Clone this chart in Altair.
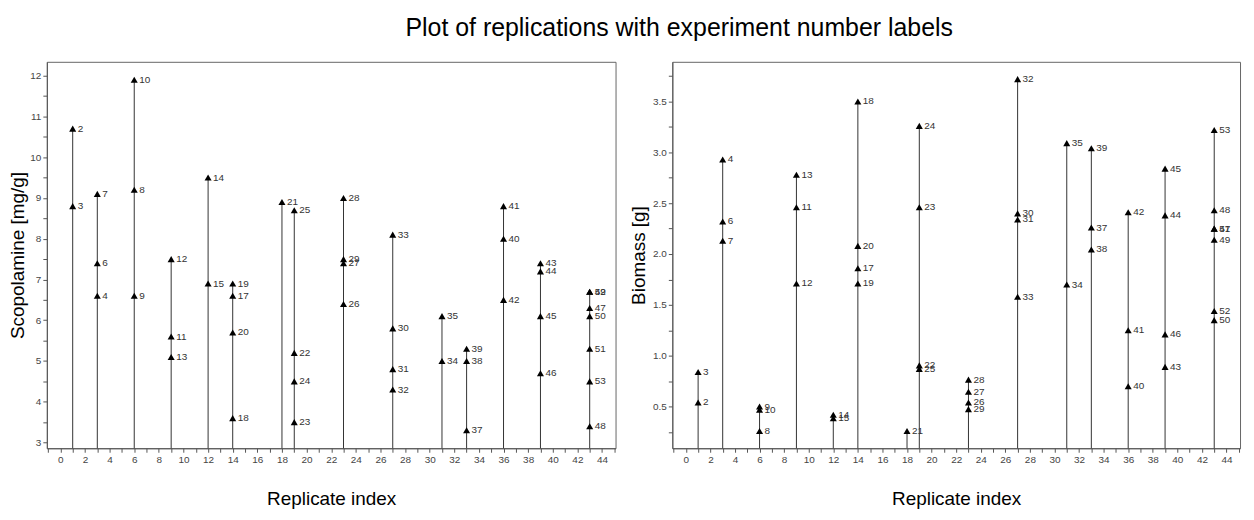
import altair as alt
import pandas as pd

# ---- Left panel: Scopolamine ----
scop_x = [1, 1, 3, 3, 3, 6, 6, 6, 9, 9, 9, 12, 12, 14, 14, 14, 14, 18, 19, 19, 19, 19,
          23, 23, 23, 23, 27, 27, 27, 27, 31, 31, 33, 33, 33, 36, 36, 36, 39, 39, 39, 39,
          43, 43, 43, 43, 43, 43, 43]
scop_labels = [2, 3, 7, 6, 4, 10, 8, 9, 12, 11, 13, 14, 15, 19, 17, 20, 18, 21, 25, 22, 24, 23,
               28, 29, 27, 26, 33, 30, 31, 32, 35, 34, 39, 38, 37, 41, 40, 42, 43, 44, 45, 46,
               52, 49, 47, 50, 51, 53, 48]
scop_values = [10.7, 8.8, 9.1, 7.4, 6.6, 11.9, 9.2, 6.6, 7.5, 5.6, 5.1, 9.5, 6.9,
               6.9, 6.6, 5.7, 3.6, 8.9, 8.7, 5.2, 4.5, 3.5, 9.0, 7.5, 7.4, 6.4,
               8.1, 5.8, 4.8, 4.3, 6.1, 5.0, 5.3, 5.0, 3.3, 8.8, 8.0, 6.5,
               7.4, 7.2, 6.1, 4.7, 6.7, 6.7, 6.3, 6.1, 5.3, 4.5, 3.4]

# ---- Right panel: Biomass ----
bio_x = [1, 1, 3, 3, 3, 6, 6, 6, 9, 9, 9, 12, 12, 14, 14, 14, 14, 18, 19, 19, 19, 19,
         23, 23, 23, 23, 27, 27, 27, 27, 31, 31, 33, 33, 33, 36, 36, 36, 39, 39, 39, 39,
         43, 43, 43, 43, 43, 43, 43]
bio_labels = [3, 2, 4, 6, 7, 9, 10, 8, 13, 11, 12, 14, 15, 18, 20, 17, 19, 21, 24, 23, 22, 25,
              28, 27, 26, 29, 32, 30, 31, 33, 35, 34, 39, 37, 38, 42, 41, 40, 45, 44, 46, 43,
              53, 48, 51, 47, 49, 52, 50]
bio_values = [0.84, 0.54, 2.93, 2.32, 2.13, 0.50, 0.47, 0.26, 2.78, 2.46, 1.71, 0.42, 0.385,
              3.50, 2.08, 1.86, 1.71, 0.26, 3.26, 2.46, 0.905, 0.87, 0.765, 0.645, 0.54, 0.475,
              3.72, 2.40, 2.34, 1.58, 3.09, 1.70, 3.04, 2.26, 2.045, 2.41, 1.25, 0.70,
              2.84, 2.38, 1.21, 0.89, 3.22, 2.43, 2.25, 2.25, 2.14, 1.44, 1.35]

x_ticks = list(range(-1, 46))
scop_ticks = [3 + 0.5 * i for i in range(19)]
bio_ticks = [0.25 * i for i in range(1, 16)]

FONT = "Liberation Sans"


def panel(xs, vs, labs, ymin, ymax, yvals, ylabexpr, ytitle, tpad, w, h):
    df = pd.DataFrame({"x": xs, "v": vs, "lab": [str(l) for l in labs]})
    xscale = alt.Scale(domain=[-1.1, 45.1], nice=False, zero=False)
    yscale = alt.Scale(domain=[ymin, ymax], nice=False, zero=False)
    xaxis = alt.Axis(values=x_ticks, labelOverlap=False,
                     labelExpr="(datum.value % 2 == 0 && datum.value >= 0) ? datum.label : ''",
                     title="Replicate index", titlePadding=25, grid=False)
    yaxis = alt.Axis(values=yvals, labelExpr=ylabexpr, title=ytitle, labelOverlap=False,
                     titlePadding=tpad, grid=False)
    base = alt.Chart(df)
    rules = base.transform_aggregate(
        top="max(v)", groupby=["x"]
    ).transform_calculate(
        base=str(ymin)
    ).mark_rule(color="#333333", strokeWidth=1).encode(
        x=alt.X("x:Q", scale=xscale, axis=xaxis),
        y=alt.Y("top:Q", scale=yscale, axis=yaxis),
        y2="base:Q",
    )
    pts = base.mark_point(shape="triangle-up", filled=True, size=50,
                          color="black", opacity=1).encode(
        x=alt.X("x:Q", scale=xscale, axis=xaxis),
        y=alt.Y("v:Q", scale=yscale, axis=yaxis),
    )
    txt = base.mark_text(align="left", baseline="middle", dx=5, fontSize=10,
                         color="#333333", font=FONT).encode(
        x=alt.X("x:Q", scale=xscale, axis=xaxis),
        y=alt.Y("v:Q", scale=yscale, axis=yaxis),
        text="lab:N",
    )
    return alt.layer(rules, pts, txt).properties(width=w, height=h)


left = panel(scop_x, scop_values, scop_labels, 2.86, 12.34, scop_ticks,
             "datum.value % 1 == 0 ? format(datum.value, 'd') : ''", "Scopolamine [mg/g]",
             2, 571, 388)
right = panel(bio_x, bio_values, bio_labels, 0.09, 3.89, bio_ticks,
              "datum.value % 0.5 == 0 ? format(datum.value, '.1f') : ''", "Biomass [g]",
              4, 570, 388)

chart = alt.hconcat(left, right, spacing=12).properties(
    title=alt.TitleParams("Plot of replications with experiment number labels",
                          fontSize=25, font=FONT, fontWeight="normal", color="black",
                          anchor="middle", offset=20, dx=55),
    padding={"left": 0, "top": 7, "right": 5, "bottom": 5},
    background="white",
).configure_view(
    stroke="#666666", strokeWidth=1
).configure_axis(
    domainColor="#555555", tickColor="#555555", tickSize=4,
    labelColor="#444444", labelFontSize=10, labelFont=FONT, labelPadding=2,
    titleFont=FONT, titleFontSize=19, titleFontWeight="normal", titleColor="black",
)

chart.save("out.html", embed_options={"renderer": "svg", "actions": False})
